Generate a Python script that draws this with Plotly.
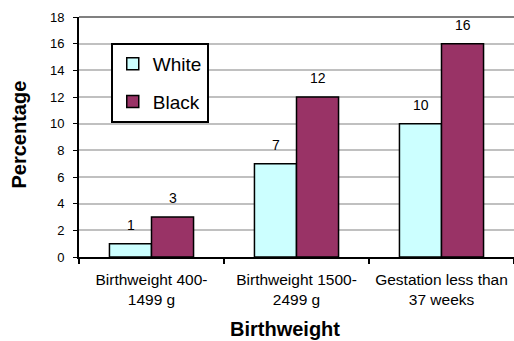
import plotly.graph_objects as go

categories = ["Birthweight 400-<br>1499 g", "Birthweight 1500-<br>2499 g", "Gestation less than<br>37 weeks"]
white_vals = [1, 7, 10]
black_vals = [3, 12, 16]
y_ticks = [0, 2, 4, 6, 8, 10, 12, 14, 16, 18]

FONT = "Arial, Liberation Sans, sans-serif"
W, H = 514, 341
ML, MR, MT, MB = 79, 0, 17, 84
plot_w = W - ML - MR
plot_h = H - MT - MB


def px_to_paper(x, y):
    return (x - ML) / plot_w, (H - MB - y) / plot_h


fig = go.Figure()
fig.add_trace(go.Bar(
    x=categories, y=white_vals, name="White",
    marker=dict(color="#CCFFFF", line=dict(color="black", width=1.5)),
    legendgroup="w",
))
fig.add_trace(go.Bar(
    x=categories, y=black_vals, name="Black",
    marker=dict(color="#993366", line=dict(color="black", width=1.5)),
    legendgroup="b",
))

# value labels above bars
for vals, shift in ((white_vals, -21), (black_vals, 21)):
    for cat, v in zip(categories, vals):
        fig.add_annotation(x=cat, y=v, xref="x", yref="y", text=str(v), showarrow=False,
                           xshift=shift, yshift=9, yanchor="bottom",
                           font=dict(size=14, family=FONT, color="black"))

# axis titles
tx, ty = px_to_paper(285, 329)
fig.add_annotation(x=tx, y=ty, xref="paper", yref="paper", text="<b>Birthweight</b>",
                   xanchor="center", yanchor="middle",
                   showarrow=False, font=dict(size=20, family=FONT, color="black"))
tx, ty = px_to_paper(18, 134.5)
fig.add_annotation(x=tx, y=ty, xref="paper", yref="paper", text="<b>Percentage</b>",
                   xanchor="center", yanchor="middle",
                   textangle=-90, showarrow=False,
                   font=dict(size=20, family=FONT, color="black"))

fig.update_layout(
    width=W, height=H,
    margin=dict(l=ML, r=MR, t=MT, b=MB, autoexpand=False),
    paper_bgcolor="white", plot_bgcolor="white",
    font=dict(family=FONT, color="black", size=12),
    barmode="group", bargap=0.42, bargroupgap=0,
    showlegend=True,
    legend=dict(
        x=0.073, y=0.892, xanchor="left", yanchor="top",
        bordercolor="black", borderwidth=2, bgcolor="white",
        font=dict(size=19, family=FONT),
        tracegroupgap=10, traceorder="grouped",
    ),
    xaxis=dict(
        automargin=False,
        showline=True, linecolor="black", linewidth=2,
        ticks="outside", tickson="boundaries", ticklen=5, tickcolor="black", tickwidth=2,
        tickfont=dict(size=15.5, family=FONT),
        tickangle=0,
        ticklabelstandoff=7,
    ),
    yaxis=dict(
        automargin=False,
        range=[0, 18], tickvals=y_ticks,
        showline=True, linecolor="black", linewidth=2,
        ticks="outside", ticklen=4, tickcolor="black", tickwidth=1,
        showgrid=True, gridcolor="#C0C0C0", gridwidth=1.5,
        zeroline=False,
        tickfont=dict(size=13, family=FONT),
        ticklabelstandoff=6,
    ),
    shapes=[dict(type="line", xref="paper", yref="paper", x0=0, x1=1, y0=1, y1=1,
                 line=dict(color="#808080", width=2))],
)

fig.write_html("out.html", config={"displayModeBar": False},
               post_script="document.body.style.margin='0';document.body.style.overflow='hidden';")
